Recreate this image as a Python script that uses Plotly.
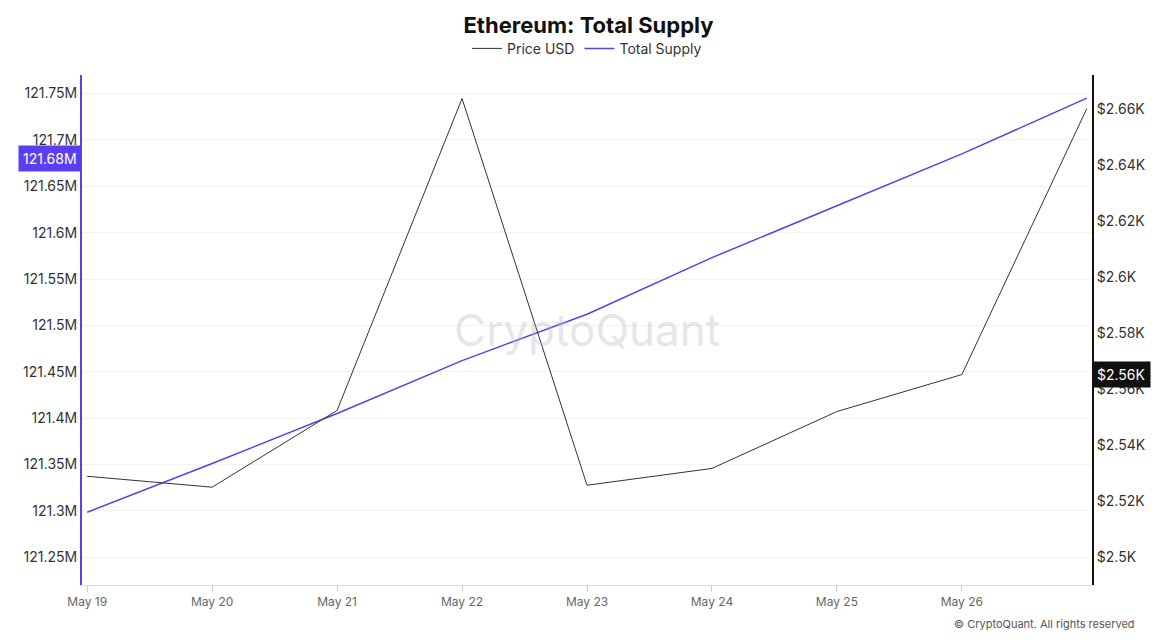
import plotly.graph_objects as go

dates = ["2024-05-19","2024-05-20","2024-05-21","2024-05-22","2024-05-23","2024-05-24","2024-05-25","2024-05-26","2024-05-27"]
supply = [121.2985e6,121.351e6,121.405e6,121.462e6,121.512e6,121.573e6,121.629e6,121.685e6,121.745e6]
price = [2528.8,2524.9,2552.3,2663.6,2525.6,2531.6,2551.9,2565.1,2660.0]

fig = go.Figure()
fig.add_trace(go.Scatter(x=dates, y=price, name="Price USD", yaxis="y2", mode="lines",
                         line=dict(color="#333333", width=1)))
fig.add_trace(go.Scatter(x=dates, y=supply, name="Total Supply", mode="lines",
                         line=dict(color="#5a3ff0", width=1.5)))

fig.update_layout(
    width=1161, height=642, paper_bgcolor="white", plot_bgcolor="white",
    font=dict(family="Inter, Open Sans, sans-serif", color="#333"),
    title=dict(text="<b>Ethereum: Total Supply</b>", x=0.5, y=0.985, yanchor="top", xanchor="center",
               font=dict(size=22, color="#111")),
    legend=dict(orientation="h", x=0.5, xanchor="center", y=1.02, yanchor="bottom",
                font=dict(size=14)),
    margin=dict(l=74, r=77, t=67, b=65),
    xaxis=dict(type="date", range=["2024-05-18 23:00","2024-05-27 01:00"],
               tickvals=dates[:-1], ticktext=["May 19","May 20","May 21","May 22","May 23","May 24","May 25","May 26"],
               showgrid=False, tickfont=dict(size=12, color="#666"), ticks="outside",
               ticklen=6, tickcolor="#ccc", showline=True, linecolor="#ddd"),
    yaxis=dict(range=[121.22e6,121.77e6], tickvals=[121.25e6+i*0.05e6 for i in range(11)],
               ticktext=[f"{121.25+i*0.05:g}M" for i in range(11)],
               showgrid=True, gridcolor="#f2f2f2", showline=True, linecolor="#5a3ff0", linewidth=2,
               tickfont=dict(size=14, color="#333")),
    yaxis2=dict(overlaying="y", side="right", range=[2490, 2672],
                tickvals=[2500+20*i for i in range(9)],
                ticktext=[f"${(2500+20*i)/1000:g}K" for i in range(9)],
                showgrid=False, showline=True, linecolor="#111", linewidth=2,
                tickfont=dict(size=14, color="#333")),
    annotations=[
        dict(text="CryptoQuant", x=0.5, y=0.5, xref="paper", yref="paper", showarrow=False,
             font=dict(size=44, color="rgba(180,180,200,0.35)")),
        dict(text="© CryptoQuant. All rights reserved", x=1.045, y=-0.095, xref="paper", yref="paper",
             xanchor="right", showarrow=False, font=dict(size=11, color="#555")),
        dict(text="121.68M", x=0, xref="paper", y=121.68e6, yref="y", xanchor="right", showarrow=False,
             bgcolor="#5a3ff0", font=dict(size=14, color="white"), borderpad=4),
        dict(text="$2.56K", x=1, xref="paper", y=2565.1, yref="y2", xanchor="left", showarrow=False,
             bgcolor="#111", font=dict(size=14, color="white"), borderpad=4),
    ],
)
fig.write_html("out.html")
